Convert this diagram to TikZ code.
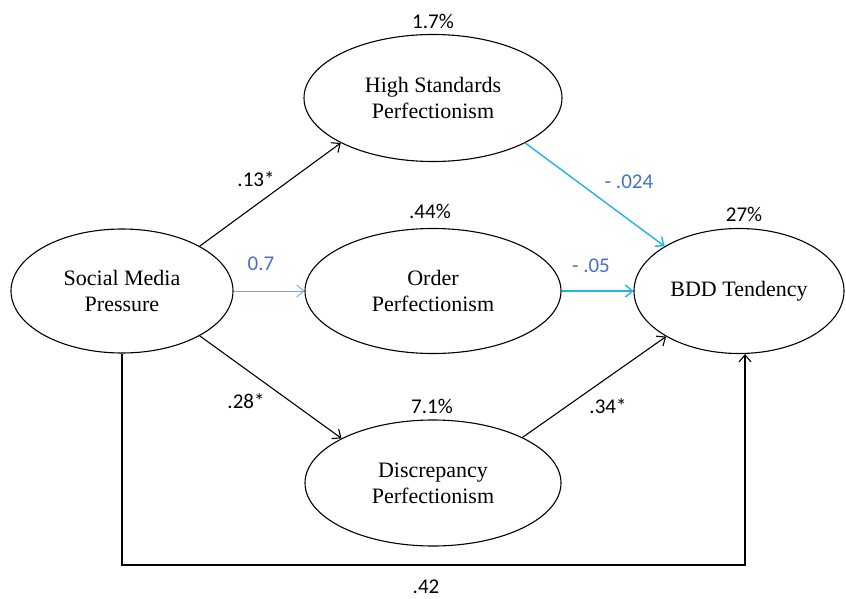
\documentclass[tikz,border=0pt]{standalone}
\usepackage{fontspec}
\setmainfont{Liberation Serif}
\newfontfamily\coeffont{Carlito}
\usepackage{tikz}
\usetikzlibrary{shapes,arrows.meta}
\definecolor{coefblue}{HTML}{4472C4}
\definecolor{lightlink}{HTML}{7FA3DF}
\definecolor{cyanlink}{HTML}{1FB2F0}

\begin{document}
\begin{tikzpicture}[x=1pt,y=-1pt]
\tikzstyle{every path}=[line width=1.1pt]
\tikzstyle{latent}=[ellipse,draw,inner sep=0pt,align=center,font=\fontsize{22}{26}\selectfont]
\tikzstyle{coef}=[inner sep=1pt,font=\coeffont\fontsize{21}{25}\selectfont]
\tikzstyle{link}=[->,>={Straight Barb[length=7pt,width=12pt]}]
\useasboundingbox (0,0) rectangle (846,599);
% latent variables
\node[latent,minimum width=222pt,minimum height=124pt] (smp) at (122,291) {Social Media\\Pressure};
\node[latent,minimum width=258pt,minimum height=127pt] (hs) at (433,98) {High Standards\\Perfectionism};
\node[latent,minimum width=256pt,minimum height=125pt] (order) at (433,291) {Order\\Perfectionism};
\node[latent,minimum width=256pt,minimum height=126pt] (disc) at (433,483) {Discrepancy\\Perfectionism};
\node[latent,minimum width=210pt,minimum height=125pt] (bdd) at (739,291) {BDD Tendency};
% explained variance
\node[coef] (hsr) at (433,21) {1.7\%};
\node[coef] (orderr) at (430,211) {.44\%};
\node[coef] (discr) at (432,406) {7.1\%};
\node[coef] (bddr) at (744,214) {27\%};
% paths
\draw[link] (smp.30) -- (hs.206);
\draw[link,lightlink,line width=0.9pt] (smp.east) -- (order.west);
\draw[link,cyanlink,line width=1.4pt] (hs.-26) -- (bdd.149);
\draw[link,cyanlink,line width=1.4pt] (order.east) -- (bdd.west);
\draw[link] (smp.-30) -- (disc.154);
\draw[link] (disc.27) -- (bdd.212);
\coordinate (corner) at (745,565);
\draw[link] (smp.south) |- (corner) -- (corner |- bdd.south);
% coefficients
\node[coef] (a1) at (256,179) {.13*};
\node[coef,coefblue] (a2) at (261,264) {0.7};
\node[coef] (a3) at (246,401) {.28*};
\node[coef,coefblue] (b1) at (629,182) {- .024};
\node[coef,coefblue] (b2) at (591,266) {- .05};
\node[coef] (b3) at (608,406) {.34*};
\node[coef] (c1) at (426,587) {.42};
\end{tikzpicture}
\end{document}
